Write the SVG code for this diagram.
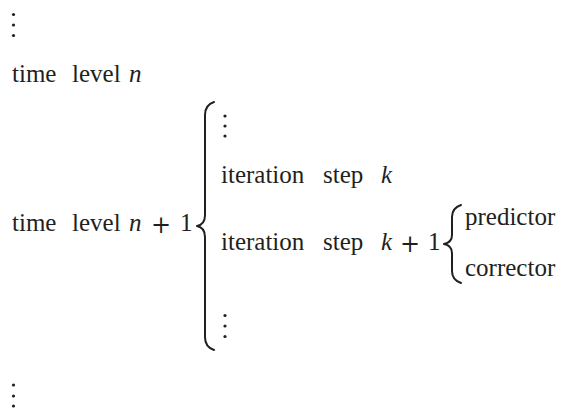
<svg xmlns="http://www.w3.org/2000/svg" width="566" height="408" viewBox="0 0 566 408">
<rect width="566" height="408" fill="#ffffff"/>
<g id="dots-top" fill="#231f20"><circle cx="13.5" cy="14.5" r="1.6"/><circle cx="13.5" cy="25" r="1.6"/><circle cx="13.5" cy="35.5" r="1.6"/></g>
<g id="time-level-n"><text x="12" y="82" style="font-family:'Liberation Serif',serif !important;font-size:25px;fill:#231f20">time</text><text x="72" y="82" style="font-family:'Liberation Serif',serif !important;font-size:25px;fill:#231f20">level</text><text x="129" y="82" style="font-family:'Liberation Serif',serif !important;font-size:25px;font-style:italic;fill:#231f20">n</text></g>
<g id="time-level-n1"><text x="12" y="231" style="font-family:'Liberation Serif',serif !important;font-size:25px;fill:#231f20">time</text><text x="72" y="231" style="font-family:'Liberation Serif',serif !important;font-size:25px;fill:#231f20">level</text><text x="129" y="231" style="font-family:'Liberation Serif',serif !important;font-size:25px;font-style:italic;fill:#231f20">n</text><text x="151" y="233" style="font-family:'DejaVu Serif',serif !important;font-size:24px;fill:#231f20">+</text><text x="180" y="231" style="font-family:'Liberation Serif',serif !important;font-size:25px;fill:#231f20">1</text></g>
<g id="dots-inner-top" fill="#231f20"><circle cx="225" cy="116" r="1.6"/><circle cx="225" cy="126" r="1.6"/><circle cx="225" cy="136" r="1.6"/></g>
<g id="iteration-k"><text x="221" y="183" style="font-family:'Liberation Serif',serif !important;font-size:25px;fill:#231f20">iteration</text><text x="323" y="183" style="font-family:'Liberation Serif',serif !important;font-size:25px;fill:#231f20">step</text><text x="381" y="183" style="font-family:'Liberation Serif',serif !important;font-size:25px;font-style:italic;fill:#231f20">k</text></g>
<g id="iteration-k1"><text x="221" y="250" style="font-family:'Liberation Serif',serif !important;font-size:25px;fill:#231f20">iteration</text><text x="323" y="250" style="font-family:'Liberation Serif',serif !important;font-size:25px;fill:#231f20">step</text><text x="381" y="250" style="font-family:'Liberation Serif',serif !important;font-size:25px;font-style:italic;fill:#231f20">k</text><text x="400" y="252" style="font-family:'DejaVu Serif',serif !important;font-size:24px;fill:#231f20">+</text><text x="428" y="250" style="font-family:'Liberation Serif',serif !important;font-size:25px;fill:#231f20">1</text></g>
<g id="predictor"><text x="465" y="225" style="font-family:'Liberation Serif',serif !important;font-size:25px;fill:#231f20">predictor</text></g>
<g id="corrector"><text x="465" y="276" style="font-family:'Liberation Serif',serif !important;font-size:25px;fill:#231f20">corrector</text></g>
<g id="dots-inner-bottom" fill="#231f20"><circle cx="225" cy="315.5" r="1.6"/><circle cx="225" cy="326" r="1.6"/><circle cx="225" cy="336.5" r="1.6"/></g>
<g id="dots-bottom" fill="#231f20"><circle cx="13.5" cy="385" r="1.6"/><circle cx="13.5" cy="396" r="1.6"/><circle cx="13.5" cy="406" r="1.6"/></g>
<g id="connectors" fill="none" stroke="#231f20" stroke-width="2" stroke-linecap="round" stroke-linejoin="round">
<path d="M214,102 C208,104 205,108 205,115 L205,215 C205,221 202,225 197,226 C202,227 205,231 205,237 L205,337 C205,344 208,348 214,350"/>
<path d="M461,205 C455,207 452,211 452,217 L452,235 C452,240 449,243 444,244 C449,245 452,248 452,253 L452,271 C452,277 455,281 461,283"/>
</g>
</svg>
